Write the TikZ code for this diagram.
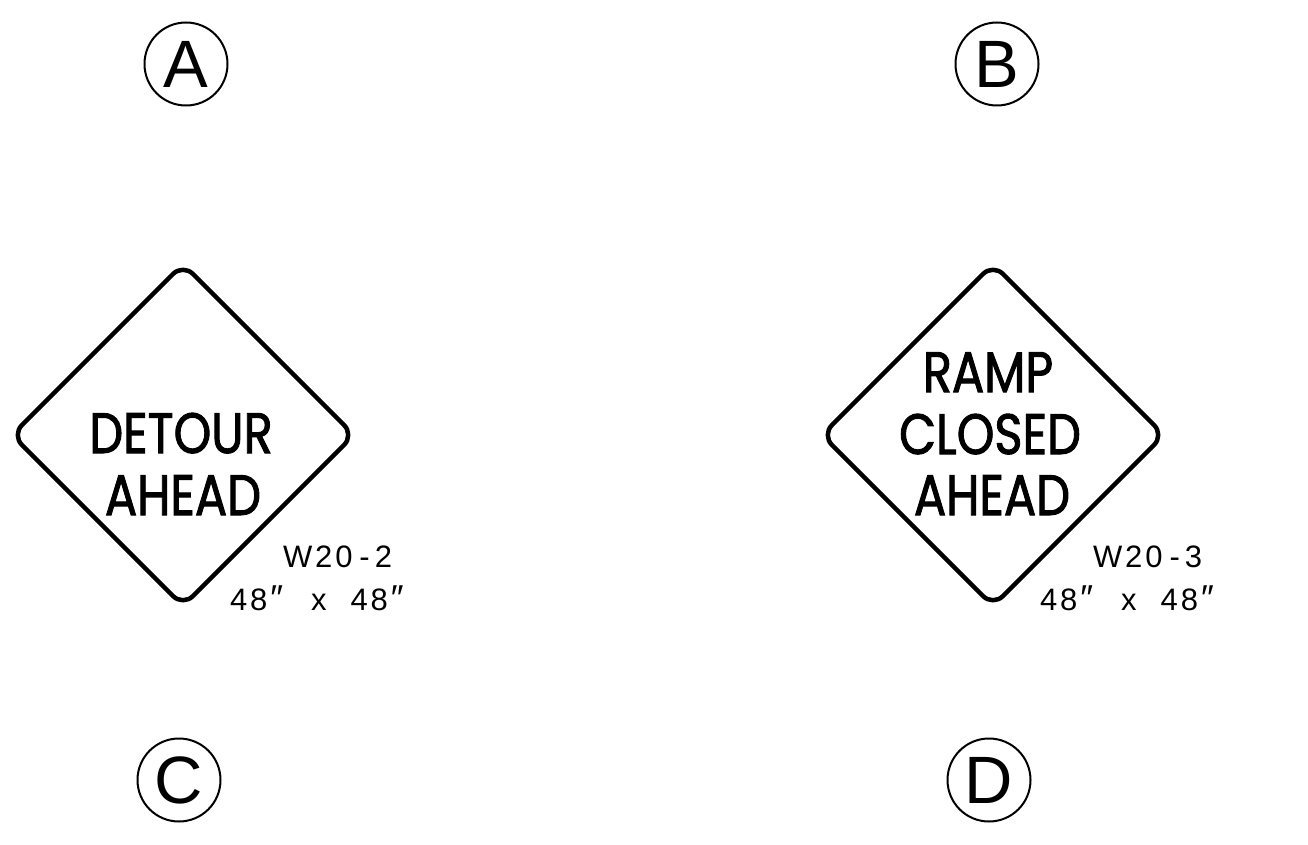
\documentclass[tikz,border=0pt]{standalone}
\usepackage{fontspec}
\setmainfont{Liberation Sans}
\newfontfamily\signfont[FakeBold=1.8]{Poppins}
\newfontfamily\labfont[LetterSpace=9]{Liberation Sans}
\begin{document}
\begin{tikzpicture}[x=1pt,y=-1pt,
  tag/.style={circle,draw,line width=2pt,minimum size=83pt,inner sep=0pt,font=\fontsize{67}{67}\selectfont},
  sign/.style={line width=4.5pt,rounded corners=14pt,line join=round},
  legend/.style={anchor=base,font=\signfont\fontsize{57}{57}\selectfont,inner sep=0pt,xscale=0.84},
  code/.style={anchor=base west,inner sep=0pt,font=\labfont\fontsize{31}{31}\selectfont},
  dq/.style={}]
\useasboundingbox (0,0) rectangle (1308,845);
% circled letters
\node[tag] (ta) at (186,64) {A};
\node[tag] (tb) at (997,64) {B};
\node[tag] (tc) at (179,780) {C};
\node[tag] (td) at (989,780) {D};
% sign W20-2
\draw[sign] (183,264) -- (354,435) -- (183,606) -- (12,435) -- cycle;
\node[legend] (a1) at (181,453) {DETOUR};
\node[legend] (a2) at (183,515) {AHEAD};
\node[code] (a3) at (283,567) {W20\kern7pt-\kern5pt2};
\node[code] (a4) at (230,610) {48\kern3pt{\fontsize{36}{36}\selectfont″}\kern28pt x\kern24pt 48\kern3pt{\fontsize{36}{36}\selectfont″}};
% sign W20-3
\draw[sign] (993,264) -- (1164,435) -- (993,606) -- (822,435) -- cycle;
\node[legend] (b1) at (988,392) {RAMP};
\node[legend] (b2) at (990,454) {CLOSED};
\node[legend] (b3) at (992,515) {AHEAD};
\node[code] (b3) at (1093,567) {W20\kern7pt-\kern5pt3};
\node[code] (b4) at (1040,610) {48\kern3pt{\fontsize{36}{36}\selectfont″}\kern28pt x\kern24pt 48\kern3pt{\fontsize{36}{36}\selectfont″}};
\end{tikzpicture}
\end{document}
